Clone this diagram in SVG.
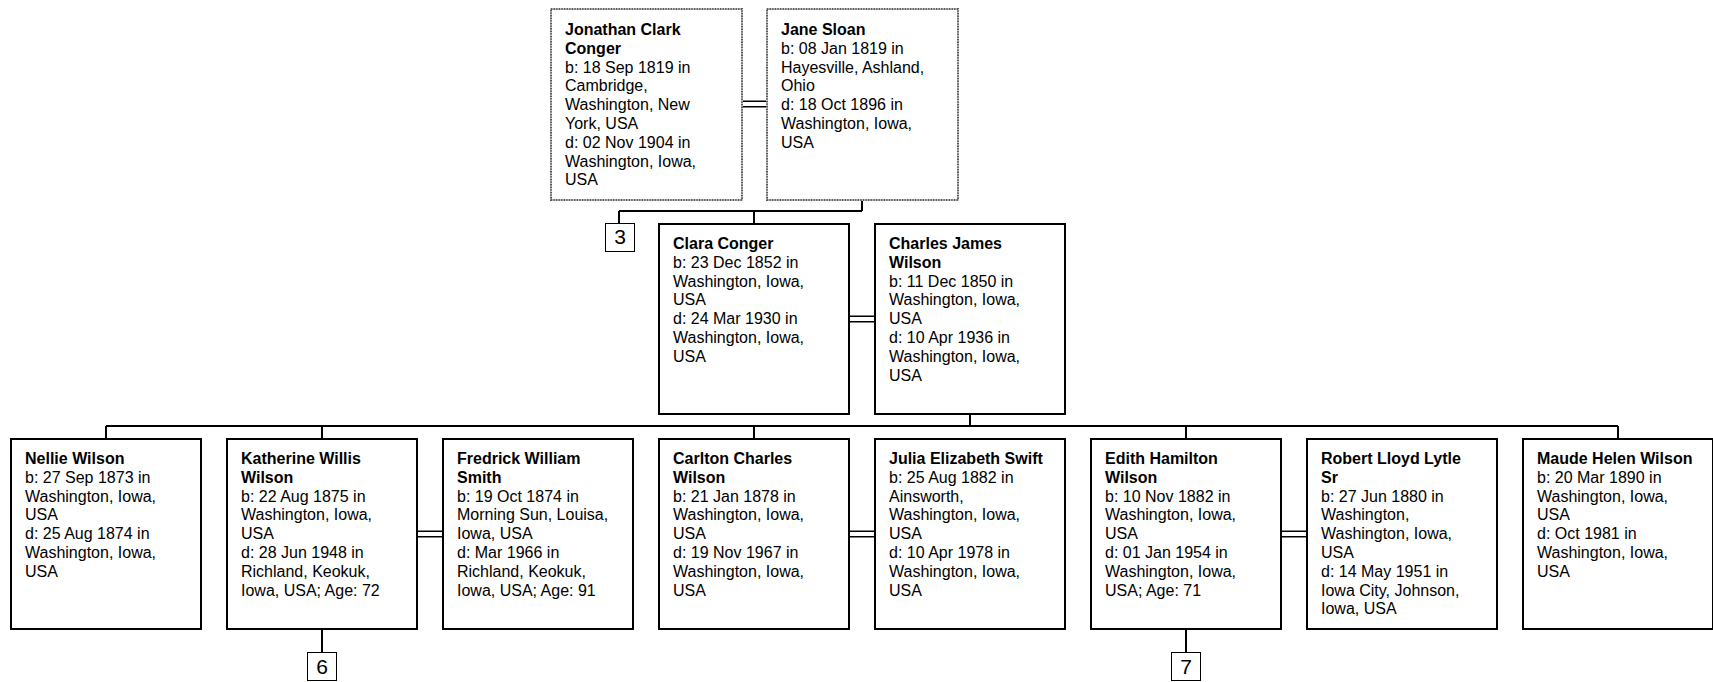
<svg xmlns="http://www.w3.org/2000/svg" width="1713" height="682" viewBox="0 0 1713 682">
<style>
.box{fill:#fff;stroke:#000;stroke-width:2}
.dbox{fill:#fff;stroke:#c4c4c4;stroke-width:2}
.dots{fill:none;stroke:#5a5a5a;stroke-width:2;stroke-dasharray:1.3 1.3}
.ref{fill:#fff;stroke:#000;stroke-width:1}
.ln{stroke:#000;stroke-width:2;fill:none}
.dl{stroke:#000;stroke-width:1.5;fill:none}
text{font-family:"Liberation Sans",Arial,sans-serif;font-size:16px;fill:#000}
.nm{font-weight:bold}
.rt{font-size:21px;text-anchor:middle}
</style>
<rect width="1713" height="682" fill="#fff"/>
<g id="connectors">
<path class="dl" d="M742 101.3H766M742 106.7H766"/>
<path class="dl" d="M850 316.3H874M850 321.7H874"/>
<path class="dl" d="M418 531.3H442M418 536.7H442"/>
<path class="dl" d="M850 531.3H874M850 536.7H874"/>
<path class="dl" d="M1282 531.3H1306M1282 536.7H1306"/>
<path class="ln" d="M862 200V211M619 211H862M619 211V223M754 211V223"/>
<path class="ln" d="M970 415V426M106 426H1618M106 426V438M322 426V438M754 426V438M1186 426V438M1618 426V438"/>
<path class="ln" d="M322 630V652M1186 630V652"/>
</g>
<g id="n-jonathan">
<rect class="dbox" x="551" y="9" width="191" height="191"/>
<rect class="dots" x="551" y="9" width="191" height="191"/>
<text x="565" y="35"><tspan class="nm">Jonathan Clark</tspan><tspan class="nm" x="565" dy="18.8">Conger</tspan><tspan x="565" dy="18.8">b: 18 Sep 1819 in</tspan><tspan x="565" dy="18.8">Cambridge,</tspan><tspan x="565" dy="18.8">Washington, New</tspan><tspan x="565" dy="18.8">York, USA</tspan><tspan x="565" dy="18.8">d: 02 Nov 1904 in</tspan><tspan x="565" dy="18.8">Washington, Iowa,</tspan><tspan x="565" dy="18.8">USA</tspan></text>
</g>
<g id="n-jane">
<rect class="dbox" x="767" y="9" width="191" height="191"/>
<rect class="dots" x="767" y="9" width="191" height="191"/>
<text x="781" y="35"><tspan class="nm">Jane Sloan</tspan><tspan x="781" dy="18.8">b: 08 Jan 1819 in</tspan><tspan x="781" dy="18.8">Hayesville, Ashland,</tspan><tspan x="781" dy="18.8">Ohio</tspan><tspan x="781" dy="18.8">d: 18 Oct 1896 in</tspan><tspan x="781" dy="18.8">Washington, Iowa,</tspan><tspan x="781" dy="18.8">USA</tspan></text>
</g>
<g id="r-3">
<rect class="ref" x="605.5" y="223.5" width="29" height="28"/>
<text class="rt" x="620" y="244">3</text>
</g>
<g id="n-clara">
<rect class="box" x="659" y="224" width="190" height="190"/>
<text x="673" y="249"><tspan class="nm">Clara Conger</tspan><tspan x="673" dy="18.8">b: 23 Dec 1852 in</tspan><tspan x="673" dy="18.8">Washington, Iowa,</tspan><tspan x="673" dy="18.8">USA</tspan><tspan x="673" dy="18.8">d: 24 Mar 1930 in</tspan><tspan x="673" dy="18.8">Washington, Iowa,</tspan><tspan x="673" dy="18.8">USA</tspan></text>
</g>
<g id="n-charles">
<rect class="box" x="875" y="224" width="190" height="190"/>
<text x="889" y="249"><tspan class="nm">Charles James</tspan><tspan class="nm" x="889" dy="18.8">Wilson</tspan><tspan x="889" dy="18.8">b: 11 Dec 1850 in</tspan><tspan x="889" dy="18.8">Washington, Iowa,</tspan><tspan x="889" dy="18.8">USA</tspan><tspan x="889" dy="18.8">d: 10 Apr 1936 in</tspan><tspan x="889" dy="18.8">Washington, Iowa,</tspan><tspan x="889" dy="18.8">USA</tspan></text>
</g>
<g id="n-nellie">
<rect class="box" x="11" y="439" width="190" height="190"/>
<text x="25" y="464"><tspan class="nm">Nellie Wilson</tspan><tspan x="25" dy="18.8">b: 27 Sep 1873 in</tspan><tspan x="25" dy="18.8">Washington, Iowa,</tspan><tspan x="25" dy="18.8">USA</tspan><tspan x="25" dy="18.8">d: 25 Aug 1874 in</tspan><tspan x="25" dy="18.8">Washington, Iowa,</tspan><tspan x="25" dy="18.8">USA</tspan></text>
</g>
<g id="n-katherine">
<rect class="box" x="227" y="439" width="190" height="190"/>
<text x="241" y="464"><tspan class="nm">Katherine Willis</tspan><tspan class="nm" x="241" dy="18.8">Wilson</tspan><tspan x="241" dy="18.8">b: 22 Aug 1875 in</tspan><tspan x="241" dy="18.8">Washington, Iowa,</tspan><tspan x="241" dy="18.8">USA</tspan><tspan x="241" dy="18.8">d: 28 Jun 1948 in</tspan><tspan x="241" dy="18.8">Richland, Keokuk,</tspan><tspan x="241" dy="18.8">Iowa, USA; Age: 72</tspan></text>
</g>
<g id="n-fredrick">
<rect class="box" x="443" y="439" width="190" height="190"/>
<text x="457" y="464"><tspan class="nm">Fredrick William</tspan><tspan class="nm" x="457" dy="18.8">Smith</tspan><tspan x="457" dy="18.8">b: 19 Oct 1874 in</tspan><tspan x="457" dy="18.8">Morning Sun, Louisa,</tspan><tspan x="457" dy="18.8">Iowa, USA</tspan><tspan x="457" dy="18.8">d: Mar 1966 in</tspan><tspan x="457" dy="18.8">Richland, Keokuk,</tspan><tspan x="457" dy="18.8">Iowa, USA; Age: 91</tspan></text>
</g>
<g id="n-carlton">
<rect class="box" x="659" y="439" width="190" height="190"/>
<text x="673" y="464"><tspan class="nm">Carlton Charles</tspan><tspan class="nm" x="673" dy="18.8">Wilson</tspan><tspan x="673" dy="18.8">b: 21 Jan 1878 in</tspan><tspan x="673" dy="18.8">Washington, Iowa,</tspan><tspan x="673" dy="18.8">USA</tspan><tspan x="673" dy="18.8">d: 19 Nov 1967 in</tspan><tspan x="673" dy="18.8">Washington, Iowa,</tspan><tspan x="673" dy="18.8">USA</tspan></text>
</g>
<g id="n-julia">
<rect class="box" x="875" y="439" width="190" height="190"/>
<text x="889" y="464"><tspan class="nm">Julia Elizabeth Swift</tspan><tspan x="889" dy="18.8">b: 25 Aug 1882 in</tspan><tspan x="889" dy="18.8">Ainsworth,</tspan><tspan x="889" dy="18.8">Washington, Iowa,</tspan><tspan x="889" dy="18.8">USA</tspan><tspan x="889" dy="18.8">d: 10 Apr 1978 in</tspan><tspan x="889" dy="18.8">Washington, Iowa,</tspan><tspan x="889" dy="18.8">USA</tspan></text>
</g>
<g id="n-edith">
<rect class="box" x="1091" y="439" width="190" height="190"/>
<text x="1105" y="464"><tspan class="nm">Edith Hamilton</tspan><tspan class="nm" x="1105" dy="18.8">Wilson</tspan><tspan x="1105" dy="18.8">b: 10 Nov 1882 in</tspan><tspan x="1105" dy="18.8">Washington, Iowa,</tspan><tspan x="1105" dy="18.8">USA</tspan><tspan x="1105" dy="18.8">d: 01 Jan 1954 in</tspan><tspan x="1105" dy="18.8">Washington, Iowa,</tspan><tspan x="1105" dy="18.8">USA; Age: 71</tspan></text>
</g>
<g id="n-robert">
<rect class="box" x="1307" y="439" width="190" height="190"/>
<text x="1321" y="464"><tspan class="nm">Robert Lloyd Lytle</tspan><tspan class="nm" x="1321" dy="18.8">Sr</tspan><tspan x="1321" dy="18.8">b: 27 Jun 1880 in</tspan><tspan x="1321" dy="18.8">Washington,</tspan><tspan x="1321" dy="18.8">Washington, Iowa,</tspan><tspan x="1321" dy="18.8">USA</tspan><tspan x="1321" dy="18.8">d: 14 May 1951 in</tspan><tspan x="1321" dy="18.8">Iowa City, Johnson,</tspan><tspan x="1321" dy="18.8">Iowa, USA</tspan></text>
</g>
<g id="n-maude">
<rect class="box" x="1523" y="439" width="190" height="190"/>
<text x="1537" y="464"><tspan class="nm">Maude Helen Wilson</tspan><tspan x="1537" dy="18.8">b: 20 Mar 1890 in</tspan><tspan x="1537" dy="18.8">Washington, Iowa,</tspan><tspan x="1537" dy="18.8">USA</tspan><tspan x="1537" dy="18.8">d: Oct 1981 in</tspan><tspan x="1537" dy="18.8">Washington, Iowa,</tspan><tspan x="1537" dy="18.8">USA</tspan></text>
</g>
<g id="r-6">
<rect class="ref" x="307.5" y="652.5" width="29" height="28"/>
<text class="rt" x="322" y="674">6</text>
</g>
<g id="r-7">
<rect class="ref" x="1171.5" y="652.5" width="29" height="28"/>
<text class="rt" x="1186" y="674">7</text>
</g>
</svg>
